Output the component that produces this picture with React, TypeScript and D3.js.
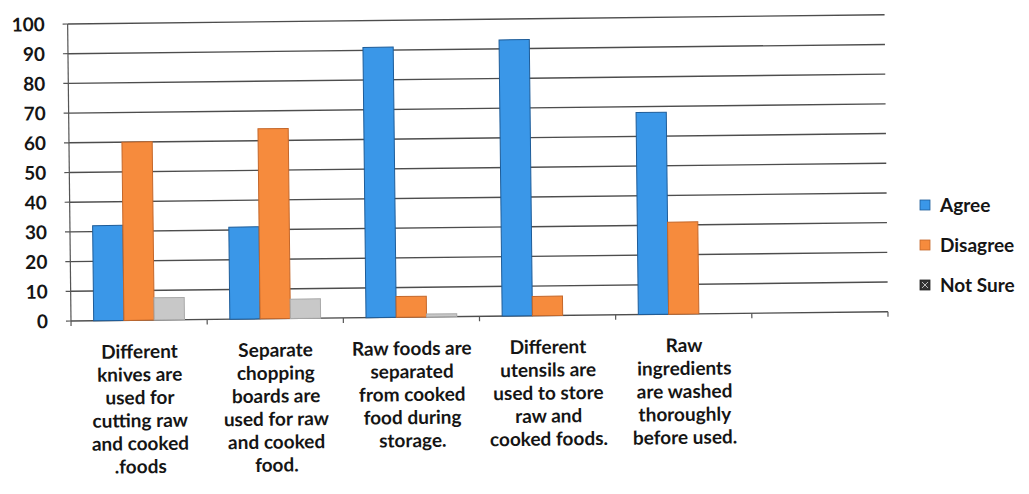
import React from "react";
import * as d3 from "d3";

// Survey responses (percent) on cross-contamination practices
const categories: string[][] = [
  ["Different", "knives are", "used for", "cutting raw", "and cooked", ".foods"],
  ["Separate", "chopping", "boards are", "used for raw", "and cooked", "food."],
  ["Raw foods are", "separated", "from cooked", "food during", "storage."],
  ["Different", "utensils are", "used to store", "raw and", "cooked foods."],
  ["Raw", "ingredients", "are washed", "thoroughly", "before used."],
  [""],
];
const seriesNames = ["Agree", "Disagree", "Not Sure"];
const agree = [32, 31, 91, 93, 68, 0];
const disagree = [60, 64, 7, 6.5, 31, 0];
const notSure = [7.5, 6.5, 1, 0, 0, 0];
const yTicks = [0, 10, 20, 30, 40, 50, 60, 70, 80, 90, 100];

const seriesValues = [agree, disagree, notSure];
const fills = ["#3a97e8", "#f68b3d", "#c8c8c8"];
const strokes = ["#1e5c98", "#c4672a", "#a9a9a9"];

const W = 1029;
const H = 494;
const originX = 71;
const originY = 321;
const plotW = 817;
const plotH = 297;
const tilt = -0.65; // degrees

const FONT = "Lato, 'Open Sans', sans-serif";

export default function App() {
  const keys = categories.map((_, i) => String(i));
  const x0 = d3.scaleBand<string>().domain(keys).range([0, plotW]).paddingInner(0).paddingOuter(0);
  const x1 = d3
    .scaleBand<string>()
    .domain(seriesNames)
    .range([0, x0.bandwidth()])
    .paddingInner(0)
    .paddingOuter(0.75);
  const y = d3.scaleLinear().domain([0, 100]).range([0, -plotH]);

  return (
    <svg
      width={W}
      height={H}
      style={{ position: "absolute", left: 0, top: 0, background: "#fff" }}
      fontFamily={FONT}
    >
      <rect width={W} height={H} fill="#fff" />
      <g transform={`translate(${originX},${originY}) rotate(${tilt})`}>
        {/* gridlines */}
        {yTicks.map((t) => (
          <line
            key={"g" + t}
            x1={0}
            x2={plotW}
            y1={y(t)}
            y2={y(t)}
            stroke="#4d4d4d"
            strokeWidth={1.4}
          />
        ))}
        {/* y axis */}
        <line x1={0} x2={0} y1={0} y2={y(100)} stroke="#555" strokeWidth={1.2} />
        {yTicks.map((t) => (
          <g key={"yt" + t}>
            <line x1={-5} x2={0} y1={y(t)} y2={y(t)} stroke="#555" strokeWidth={1.2} />
            <text
              x={-23}
              y={y(t)}
              dy="0.36em"
              textAnchor="end"
              fontSize={19}
              fontWeight={700}
              fill="#151515"
            >
              {t}
            </text>
          </g>
        ))}
        {/* x axis ticks */}
        {d3.range(categories.length + 1).map((i) => (
          <line
            key={"xt" + i}
            x1={i * x0.step()}
            x2={i * x0.step()}
            y1={0}
            y2={5}
            stroke="#555"
            strokeWidth={1.2}
          />
        ))}
        {/* bars */}
        {categories.map((_, ci) => (
          <g key={"c" + ci} transform={`translate(${x0(String(ci))},0)`}>
            {seriesNames.map((s, si) => {
              const v = seriesValues[si][ci];
              if (!v) return null;
              return (
                <rect
                  key={s}
                  x={x1(s)}
                  y={y(v)}
                  width={x1.bandwidth()}
                  height={-y(v)}
                  fill={fills[si]}
                  stroke={strokes[si]}
                  strokeWidth={1}
                />
              );
            })}
          </g>
        ))}
        {/* category labels */}
        {categories.map((lines, ci) => (
          <text
            key={"l" + ci}
            x={(x0(String(ci)) as number) + x0.bandwidth() / 2}
            y={38}
            textAnchor="middle"
            fontSize={19}
            fontWeight={700}
            fill="#151515"
          >
            {lines.map((ln, li) => (
              <tspan key={li} x={(x0(String(ci)) as number) + x0.bandwidth() / 2} dy={li === 0 ? 0 : 23}>
                {ln}
              </tspan>
            ))}
          </text>
        ))}
      </g>
      {/* legend */}
      <g transform="translate(920,205)">
        {seriesNames.map((s, si) => (
          <g key={s} transform={`translate(0,${si * 40})`}>
            <rect
              x={0}
              y={-5}
              width={10}
              height={10}
              fill={si === 2 ? "#333" : fills[si]}
              stroke={si === 2 ? "#222" : strokes[si]}
              strokeWidth={0.8}
            />
            {si === 2 && (
              <path d="M2,-3 L8,3 M8,-3 L2,3" stroke="#bbb" strokeWidth={1} />
            )}
            <text x={20} y={0} dy="0.36em" fontSize={19} fontWeight={700} fill="#151515">
              {s}
            </text>
          </g>
        ))}
      </g>
    </svg>
  );
}
